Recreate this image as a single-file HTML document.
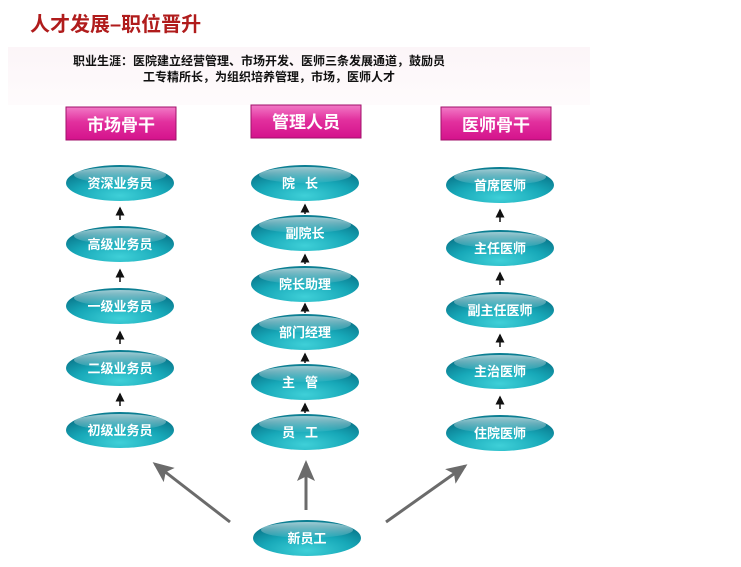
<!DOCTYPE html>
<html><head><meta charset="utf-8"><style>
html,body{margin:0;padding:0;background:#fff;}
svg{display:block;}
text{font-family:"Liberation Sans","Noto Sans CJK SC",sans-serif;}
</style></head><body>
<svg width="741" height="567" viewBox="0 0 741 567" xmlns="http://www.w3.org/2000/svg">
<defs>
<linearGradient id="pk" x1="0" y1="0" x2="0" y2="1">
<stop offset="0" stop-color="#fcf5f8"/><stop offset="1" stop-color="#fefbfc"/></linearGradient>
<linearGradient id="hd" x1="0" y1="0" x2="0" y2="1">
<stop offset="0" stop-color="#f27ac6"/><stop offset="0.45" stop-color="#e2309e"/><stop offset="1" stop-color="#d4128c"/></linearGradient>
<radialGradient id="el" cx="0.5" cy="0.85" r="0.7">
<stop offset="0" stop-color="#3fd0d8"/><stop offset="0.6" stop-color="#17a8b8"/><stop offset="1" stop-color="#0b7e92"/></radialGradient>
<linearGradient id="hl" x1="0" y1="0" x2="0" y2="1">
<stop offset="0" stop-color="#fff" stop-opacity="0.6"/><stop offset="1" stop-color="#fff" stop-opacity="0.05"/></linearGradient>
<marker id="ah" markerWidth="7" markerHeight="6" refX="6" refY="3" orient="auto" markerUnits="strokeWidth"><path d="M0,0 L7,3 L0,6 L1.5,3z" fill="#6b6b6b"/></marker>
<marker id="sa" markerWidth="6" markerHeight="6" refX="5" refY="3" orient="auto"><path d="M0,0 L6,3 L0,6z" fill="#111"/></marker>
<g id="e"><ellipse cx="0" cy="0" rx="54" ry="18" fill="url(#el)"/><ellipse cx="0" cy="-8" rx="46" ry="8" fill="url(#hl)"/></g>
</defs>
<rect x="8" y="47" width="582" height="58" fill="url(#pk)"/>
<text x="30" y="31" font-size="20" font-weight="bold" fill="#b01c1c" font-family="Liberation Serif,Noto Serif CJK SC,serif">人才发展–职位晋升</text>
<text x="73" y="65" font-size="12" font-weight="bold" fill="#111">职业生涯：医院建立经营管理、市场开发、医师三条发展通道，鼓励员</text>
<text x="143" y="81" font-size="12" font-weight="bold" fill="#111">工专精所长，为组织培养管理，市场，医师人才</text>
<g font-size="17" font-weight="bold" fill="#fff" text-anchor="middle">
<rect x="66" y="107" width="110" height="33" fill="url(#hd)" stroke="#a0106a"/><text x="121" y="131">市场骨干</text>
<rect x="251" y="105" width="110" height="33" fill="url(#hd)" stroke="#a0106a"/><text x="306" y="128">管理人员</text>
<rect x="441" y="107" width="110" height="33" fill="url(#hd)" stroke="#a0106a"/><text x="496" y="131">医师骨干</text>
</g>
<g font-size="13" font-weight="bold" fill="#fff" text-anchor="middle">
<use href="#e" x="120" y="183"/><text x="120" y="188">资深业务员</text>
<use href="#e" x="120" y="244"/><text x="120" y="249">高级业务员</text>
<use href="#e" x="120" y="306"/><text x="120" y="311">一级业务员</text>
<use href="#e" x="120" y="368"/><text x="120" y="373">二级业务员</text>
<use href="#e" x="120" y="430"/><text x="120" y="435">初级业务员</text>
<use href="#e" x="305" y="183"/><text x="305" y="188" letter-spacing="10">院长</text>
<use href="#e" x="305" y="233"/><text x="305" y="238">副院长</text>
<use href="#e" x="305" y="284"/><text x="305" y="289">院长助理</text>
<use href="#e" x="305" y="332"/><text x="305" y="337">部门经理</text>
<use href="#e" x="305" y="382"/><text x="305" y="387" letter-spacing="10">主管</text>
<use href="#e" x="305" y="432"/><text x="305" y="437" letter-spacing="10">员工</text>
<use href="#e" x="500" y="185"/><text x="500" y="190">首席医师</text>
<use href="#e" x="500" y="248"/><text x="500" y="253">主任医师</text>
<use href="#e" x="500" y="310"/><text x="500" y="315">副主任医师</text>
<use href="#e" x="500" y="371"/><text x="500" y="376">主治医师</text>
<use href="#e" x="500" y="433"/><text x="500" y="438">住院医师</text>
<use href="#e" x="307" y="538"/><text x="307" y="543">新员工</text>
</g>
<g stroke="#111" stroke-width="1.5" marker-end="url(#sa)">
<line x1="120" y1="220" x2="120" y2="208"/><line x1="120" y1="282" x2="120" y2="270"/><line x1="120" y1="344" x2="120" y2="332"/><line x1="120" y1="406" x2="120" y2="394"/>
<line x1="305" y1="214" x2="305" y2="205"/><line x1="305" y1="264" x2="305" y2="255"/><line x1="305" y1="313" x2="305" y2="304"/><line x1="305" y1="363" x2="305" y2="354"/><line x1="305" y1="413" x2="305" y2="404"/>
<line x1="500" y1="222" x2="500" y2="210"/><line x1="500" y1="285" x2="500" y2="273"/><line x1="500" y1="347" x2="500" y2="335"/><line x1="500" y1="409" x2="500" y2="397"/>
</g>
<g stroke="#6b6b6b" stroke-width="3" marker-end="url(#ah)">
<line x1="230" y1="522" x2="155" y2="464"/>
<line x1="306" y1="510" x2="306" y2="463"/>
<line x1="386" y1="522" x2="465" y2="466"/>
</g>
</svg>
</body></html>
